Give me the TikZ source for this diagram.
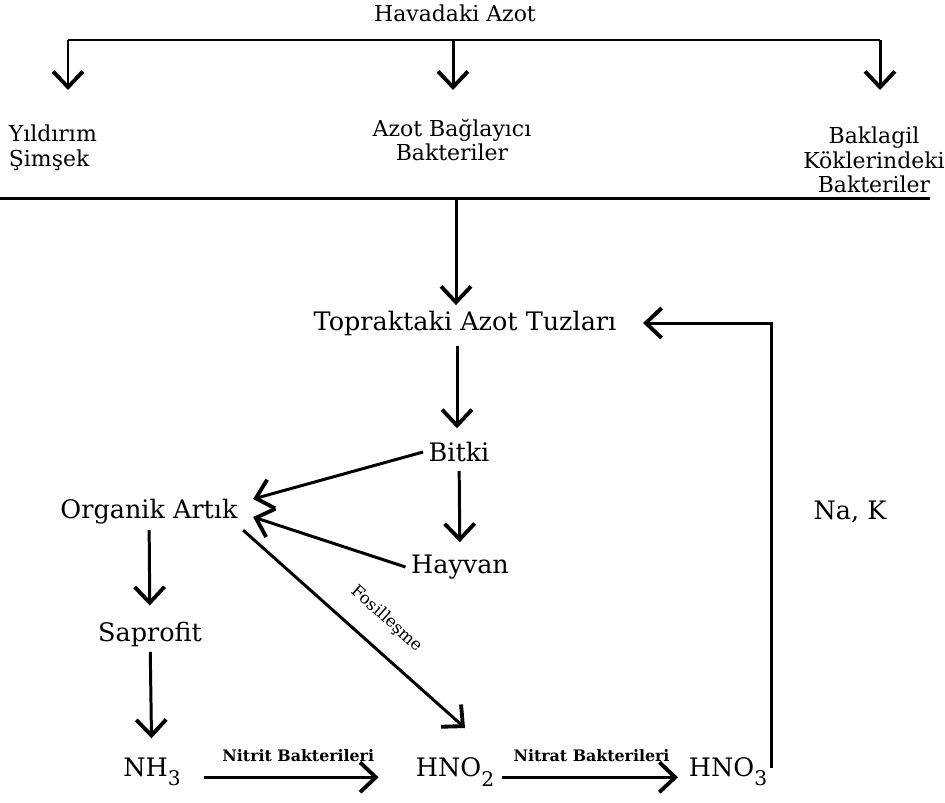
\documentclass[tikz,border=0pt]{standalone}
\usepackage{fontspec}
\setmainfont{DejaVu Serif}
\usetikzlibrary{arrows.meta, positioning}

\newcommand{\subs}[1]{\raisebox{-0.7ex}{\fontsize{11.5}{12}\selectfont #1}}

\begin{document}
\begin{tikzpicture}[
    x=0.02cm, y=-0.02cm,
    lbl/.style={font=\fontsize{14.5}{16}\selectfont, align=center, inner sep=3pt},
    toplbl/.style={font=\fontsize{12.5}{14}\selectfont, align=center, inner sep=2pt},
    smalllbl/.style={font=\fontsize{9}{10}\selectfont\bfseries, inner sep=2pt},
    ln/.style={line width=1.7pt, black},
    arr/.style={ln, -{Straight Barb[length=9pt, width=17pt, line width=2.2pt]}}
  ]
  \useasboundingbox (0,0) rectangle (945,802);

  % air nitrogen and its three paths
  \node[toplbl] (air) at (455,13) {Havadaki Azot};
  \node[toplbl, anchor=west, align=left] (light) at (5,148) {Yıldırım\\Şimşek};
  \node[toplbl] (fixb) at (452,140) {Azot Bağlayıcı\\Bakteriler};
  \node[toplbl] (legb) at (874,160) {Baklagil\\Köklerindeki\\Bakteriler};

  \coordinate (barL) at (68,40);
  \coordinate (barM) at (453,40);
  \coordinate (barR) at (880,40);
  \coordinate (tipL) at (68,90);
  \coordinate (tipM) at (453,90);
  \coordinate (tipR) at (880,90);
  \draw[ln] (barL) -- (barR);
  \foreach \s in {L,M,R}
    \draw[arr] (bar\s) -- (tip\s);

  \coordinate (sepL) at (0,198);
  \coordinate (sepM) at (456,198);
  \coordinate (sepR) at (930,198);
  \draw[ln] (sepL) -- (sepR);

  % soil cycle
  \node[lbl] (salts) at (465,323) {Topraktaki Azot Tuzları};
  \node[lbl] (plant) at (459,452) {Bitki};
  \node[lbl] (org) at (149,512) {Organik Artık};
  \node[lbl] (anim) at (460,567) {Hayvan};
  \node[lbl] (sap) at (150,634) {Saprofit};
  \node[lbl] (nh3) at (152,772) {NH\subs{3}};
  \node[lbl] (hno2) at (455,772) {HNO\subs{2}};
  \node[lbl] (hno3) at (728,772) {HNO\subs{3}};
  \node[lbl] (nak) at (850,512) {Na, K};
  \coordinate (fosTip) at (465,728);
  \coordinate (ret) at (771,768);

  \draw[arr] (sepM) -- (sepM |- salts.north);
  \draw[arr, shorten <=3pt, shorten >=1pt] (salts.south -| 457,452) -- (457,430);
  \draw[arr] (plant.west) -- ([shift={(10,-13)}]org.east);
  \draw[arr, shorten <=2pt, shorten >=4pt] (plant) -- (anim);
  \draw[arr] (anim.west) -- ([shift={(10,5)}]org.east);
  \draw[arr, shorten >=6pt] (org) -- (sap);
  \draw[arr, shorten >=8pt] (sap) -- (nh3);
  \draw[arr] (org.south east) -- node[pos=0.56, above=8pt, sloped, font=\fontsize{9.5}{10}\selectfont] (fos) {Fosilleşme} (fosTip);
  \draw[arr, shorten <=10pt, shorten >=18pt] ([yshift=-3pt]nh3.east) -- node[smalllbl, above=6pt] (nitrit) {Nitrit Bakterileri} ([yshift=-3pt]hno2.west);
  \draw[arr, shorten <=1pt, shorten >=3pt] ([yshift=-3pt]hno2.east) -- node[smalllbl, above=6pt] (nitrat) {Nitrat Bakterileri} ([yshift=-3pt]hno3.west);
  \draw[arr, shorten >=12pt] (ret) |- (salts.east);
\end{tikzpicture}
\end{document}
